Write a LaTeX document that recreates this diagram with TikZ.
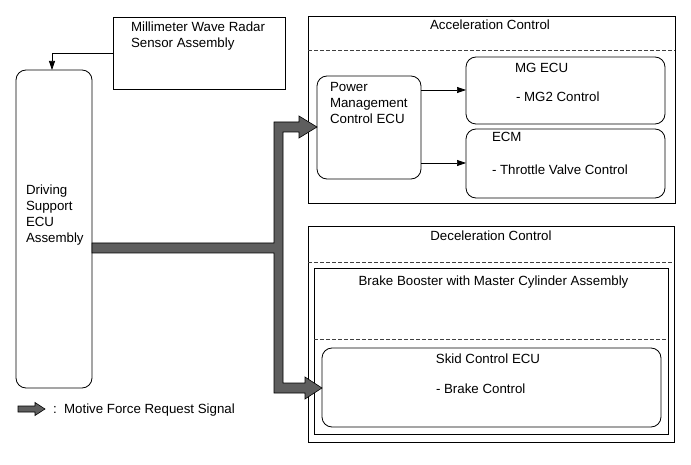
\documentclass[tikz,border=0pt]{standalone}
\usepackage{fontspec}
\setmainfont{Liberation Sans}
\usetikzlibrary{arrows.meta}
\begin{document}
\begin{tikzpicture}[x=1pt,y=-1pt,
  every node/.style={font=\fontsize{13.3}{16}\selectfont, inner sep=0pt, outer sep=0pt},
  box/.style={draw, line width=0.8pt, anchor=north west},
  rbox/.style={draw, line width=0.8pt, rounded corners=10pt, anchor=north west},
  sepline/.style={line width=0.6pt, draw=black!75, dash pattern=on 3.5pt off 2.5pt},
  sig/.style={-{Triangle[length=9pt,width=6pt]}, line width=0.7pt},
  fat/.style={draw=black, fill=black!63, line width=0.6pt, line join=miter},
  lbl/.style={anchor=base west},
  ttl/.style={anchor=base}]
\useasboundingbox (0,0) rectangle (691,465);

% boxes
\node[box, minimum width=172pt, minimum height=72pt] (radar) at (113,17) {};
\node[rbox, minimum width=76pt, minimum height=318pt] (driving) at (16,70) {};
\node[box, minimum width=367pt, minimum height=187pt] (accel) at (308,16) {};
\node[rbox, minimum width=104pt, minimum height=103pt] (pmc) at (317,76) {};
\node[rbox, minimum width=199pt, minimum height=67pt] (mg) at (466,57) {};
\node[rbox, minimum width=199pt, minimum height=69pt] (ecm) at (466,129) {};
\node[box, minimum width=366pt, minimum height=216pt] (decel) at (308,226) {};
\node[box, minimum width=354pt, minimum height=166pt] (booster) at (314,268) {};
\node[rbox, minimum width=339pt, minimum height=79pt] (skid) at (322,348) {};

% dashed separators
\draw[sepline] (accel.west |- 0,50) -- (accel.east |- 0,50);
\draw[sepline] (decel.west |- 0,262) -- (decel.east |- 0,262);
\draw[sepline] (booster.west |- 0,339) -- (booster.east |- 0,339);

% texts
\node[lbl] (radarA) at (131,32) {Millimeter Wave Radar};
\node[lbl] (radarB) at (131,48) {Sensor Assembly};
\node[lbl] (drvA) at (26,195) {Driving};
\node[lbl] (drvB) at (26,211) {Support};
\node[lbl] (drvC) at (26,227) {ECU};
\node[lbl] (drvD) at (26,243) {Assembly};
\node[ttl] (accelT) at (490,30) {Acceleration Control};
\node[lbl] (pmcA) at (330,92) {Power};
\node[lbl] (pmcB) at (330,108) {Management};
\node[lbl] (pmcC) at (330,124) {Control ECU};
\node[lbl] (mgA) at (515,73) {MG ECU};
\node[lbl] (mgB) at (516,102) {- MG2 Control};
\node[lbl] (ecmA) at (492,142) {ECM};
\node[lbl] (ecmB) at (492,175) {- Throttle Valve Control};
\node[ttl] (decelT) at (491,241) {Deceleration Control};
\node[ttl] (boosterT) at (493.5,285) {Brake Booster with Master Cylinder Assembly};
\node[ttl] (skidA) at (488,363) {Skid Control ECU};
\node[lbl] (skidB) at (436,393) {- Brake Control};
\node[lbl] (legT) at (53,413) {:\ \ Motive Force Request Signal};

% thin signal arrows
\draw[sig] (radar.west) -| ([xshift=-2pt]driving.north);
\draw[sig] (pmc.east |- 0,90) -- (mg.west |- 0,90);
\draw[sig] (pmc.east |- 0,163) -- (ecm.west |- 0,163);

% motive force request (fat arrow)
\draw[fat] (driving.east |- 0,243) -- (274,243) -- (274,122) -- (299,122) -- (299,116)
  -- (pmc.west |- 0,127) -- (299,138) -- (299,132) -- (283,132) -- (283,383)
  -- (305,383) -- (305,377) -- (skid.west |- 0,388) -- (305,399) -- (305,393)
  -- (274,393) -- (274,253) -- (driving.east |- 0,253) -- cycle;

% legend arrow
\coordinate (legS) at (18,409);
\coordinate (legTip) at (45,409);
\draw[fat] (legS |- 0,406) -- (35,406) -- (35,402.5) -- (legTip) -- (35,415.5)
  -- (35,412) -- (legS |- 0,412) -- cycle;
\end{tikzpicture}
\end{document}
